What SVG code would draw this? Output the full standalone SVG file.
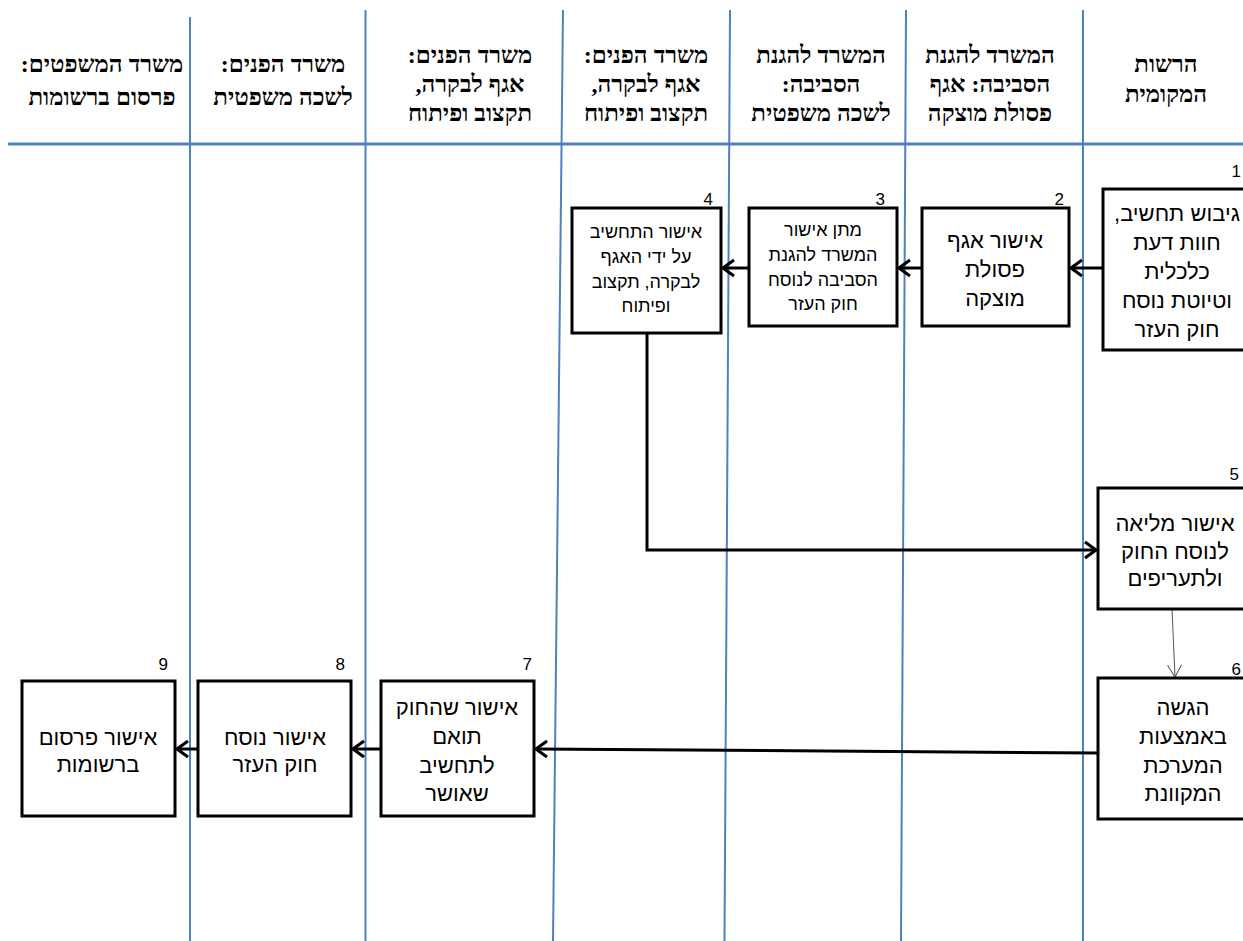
<svg xmlns="http://www.w3.org/2000/svg" width="1243" height="941" viewBox="0 0 1243 941">
<style>
.lane{stroke:#4F81BD;stroke-width:2;fill:none}
.hdr{font-family:"Liberation Serif","DejaVu Serif",serif;font-weight:bold;font-size:24px;fill:#000;text-anchor:middle}
.box{fill:#fff;stroke:#000;stroke-width:3}
.t{font-family:"Liberation Sans","DejaVu Sans",sans-serif;font-size:22px;fill:#000;text-anchor:middle}
.s{font-family:"Liberation Sans","DejaVu Sans",sans-serif;font-size:18px;fill:#000;text-anchor:middle}
.n{font-family:"Liberation Sans","DejaVu Sans",sans-serif;font-size:17px;fill:#000;text-anchor:end}
.c{stroke:#000;stroke-width:3;fill:none}
.thin{stroke:#555;stroke-width:1;fill:none}
</style>
<defs>
<marker id="ah" markerUnits="userSpaceOnUse" viewBox="-14 -10 16 20" markerWidth="16" markerHeight="20" refX="0" refY="0" orient="auto">
<path d="M-11,-8 L0,0 L-11,8" fill="none" stroke="#000" stroke-width="3"/>
</marker>
<marker id="ahThin" markerUnits="userSpaceOnUse" viewBox="-14 -10 16 20" markerWidth="16" markerHeight="20" refX="0" refY="0" orient="auto">
<path d="M-12,-7 L0,0 L-12,7" fill="none" stroke="#555" stroke-width="1"/>
</marker>
</defs>
<rect width="1243" height="941" fill="#fff"/>
<g id="lanes">
<line class="lane" x1="190" y1="17" x2="190" y2="941"/>
<line class="lane" x1="365.5" y1="10" x2="365.5" y2="941"/>
<line class="lane" x1="563" y1="10" x2="553" y2="941"/>
<line class="lane" x1="730" y1="10" x2="724.5" y2="941"/>
<line class="lane" x1="906" y1="10" x2="901" y2="941"/>
<line class="lane" x1="1083" y1="10" x2="1083" y2="941"/>
<line class="lane" x1="8" y1="144" x2="1243" y2="144" style="stroke-width:3"/>
</g>
<g id="headers" direction="rtl">
<text class="hdr" x="102" y="72">משרד המשפטים:</text>
<text class="hdr" x="102" y="105">פרסום ברשומות</text>
<text class="hdr" x="283" y="72">משרד הפנים:</text>
<text class="hdr" x="283" y="105">לשכה משפטית</text>
<text class="hdr" x="470" y="63">משרד הפנים:</text>
<text class="hdr" x="470" y="92">אגף לבקרה,</text>
<text class="hdr" x="470" y="121">תקצוב ופיתוח</text>
<text class="hdr" x="646" y="63">משרד הפנים:</text>
<text class="hdr" x="646" y="92">אגף לבקרה,</text>
<text class="hdr" x="646" y="121">תקצוב ופיתוח</text>
<text class="hdr" x="821" y="63">המשרד להגנת</text>
<text class="hdr" x="821" y="92">הסביבה:</text>
<text class="hdr" x="821" y="121">לשכה משפטית</text>
<text class="hdr" x="990" y="63">המשרד להגנת</text>
<text class="hdr" x="990" y="92">הסביבה: אגף</text>
<text class="hdr" x="990" y="121">פסולת מוצקה</text>
<text class="hdr" x="1166" y="72">הרשות</text>
<text class="hdr" x="1166" y="102">המקומית</text>
</g>
<g id="connectors">
<line class="c" x1="1103" y1="268" x2="1071" y2="268" marker-end="url(#ah)"/>
<line class="c" x1="921" y1="268" x2="899" y2="268" marker-end="url(#ah)"/>
<line class="c" x1="749" y1="268" x2="723" y2="268" marker-end="url(#ah)"/>
<path class="c" d="M647,333 V550 H1096" marker-end="url(#ah)"/>
<line class="thin" x1="1172" y1="609" x2="1175" y2="677" marker-end="url(#ahThin)"/>
<line class="c" x1="1098" y1="753" x2="536" y2="749" marker-end="url(#ah)"/>
<line class="c" x1="381" y1="749" x2="353" y2="749" marker-end="url(#ah)"/>
<line class="c" x1="198" y1="749" x2="177" y2="749" marker-end="url(#ah)"/>
</g>
<g id="node1">
<rect class="box" x="1103" y="189" width="150" height="161"/>
<text class="n" x="1241" y="177">1</text>
<g direction="rtl">
<text class="t" x="1177" y="221">גיבוש תחשיב,</text>
<text class="t" x="1177" y="250">חוות דעת</text>
<text class="t" x="1177" y="279">כלכלית</text>
<text class="t" x="1177" y="308">וטיוטת נוסח</text>
<text class="t" x="1177" y="337">חוק העזר</text>
</g>
</g>
<g id="node2">
<rect class="box" x="922" y="208" width="147" height="118"/>
<text class="n" x="1064" y="205">2</text>
<g direction="rtl">
<text class="t" x="995" y="248">אישור אגף</text>
<text class="t" x="995" y="277">פסולת</text>
<text class="t" x="995" y="306">מוצקה</text>
</g>
</g>
<g id="node3">
<rect class="box" x="749" y="208" width="148" height="118"/>
<text class="n" x="885" y="205">3</text>
<g direction="rtl">
<text class="s" x="823" y="236">מתן אישור</text>
<text class="s" x="823" y="261">המשרד להגנת</text>
<text class="s" x="823" y="286">הסביבה לנוסח</text>
<text class="s" x="823" y="310">חוק העזר</text>
</g>
</g>
<g id="node4">
<rect class="box" x="572" y="208" width="149" height="125"/>
<text class="n" x="713" y="205">4</text>
<g direction="rtl">
<text class="s" x="646" y="238">אישור התחשיב</text>
<text class="s" x="646" y="263">על ידי האגף</text>
<text class="s" x="646" y="288">לבקרה, תקצוב</text>
<text class="s" x="646" y="312">ופיתוח</text>
</g>
</g>
<g id="node5">
<rect class="box" x="1098" y="488" width="155" height="121"/>
<text class="n" x="1239" y="480">5</text>
<g direction="rtl">
<text class="t" x="1175" y="531">אישור מליאה</text>
<text class="t" x="1175" y="559">לנוסח החוק</text>
<text class="t" x="1175" y="586">ולתעריפים</text>
</g>
</g>
<g id="node6">
<rect class="box" x="1098" y="678" width="160" height="141"/>
<text class="n" x="1241" y="675">6</text>
<g direction="rtl">
<text class="t" x="1183" y="715">הגשה</text>
<text class="t" x="1183" y="744">באמצעות</text>
<text class="t" x="1183" y="773">המערכת</text>
<text class="t" x="1183" y="801">המקוונת</text>
</g>
</g>
<g id="node7">
<rect class="box" x="381" y="681" width="153" height="135"/>
<text class="n" x="532" y="670">7</text>
<g direction="rtl">
<text class="t" x="457" y="715">אישור שהחוק</text>
<text class="t" x="457" y="744">תואם</text>
<text class="t" x="457" y="773">לתחשיב</text>
<text class="t" x="457" y="801">שאושר</text>
</g>
</g>
<g id="node8">
<rect class="box" x="198" y="681" width="153" height="135"/>
<text class="n" x="345" y="670">8</text>
<g direction="rtl">
<text class="t" x="275" y="745">אישור נוסח</text>
<text class="t" x="275" y="772">חוק העזר</text>
</g>
</g>
<g id="node9">
<rect class="box" x="22" y="681" width="153" height="135"/>
<text class="n" x="168" y="670">9</text>
<g direction="rtl">
<text class="t" x="98" y="745">אישור פרסום</text>
<text class="t" x="98" y="772">ברשומות</text>
</g>
</g>
</svg>
